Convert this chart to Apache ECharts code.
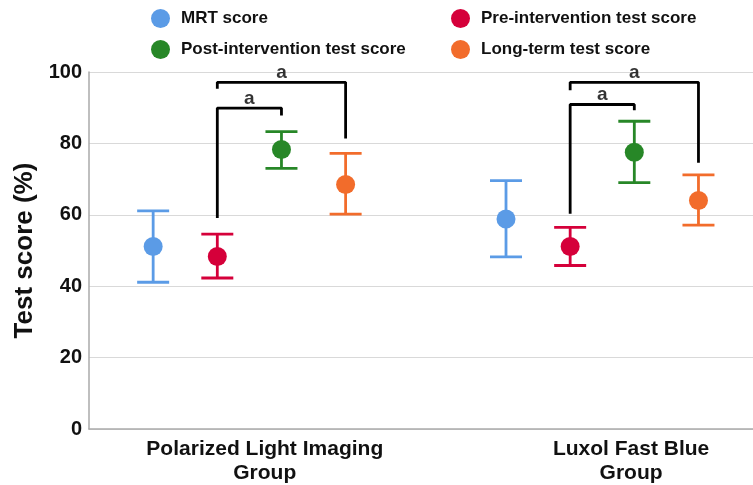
<!DOCTYPE html>
<html><head><meta charset="utf-8">
<script src="https://cdn.jsdelivr.net/npm/echarts@6/dist/echarts.min.js"></script>
<style>html,body{margin:0;padding:0;background:#fff}#c{width:753px;height:485px}</style>
</head><body><div id="c"></div>
<script>
// ---- data ----
const groupLabels = ['Polarized Light Imaging\nGroup', 'Luxol Fast Blue\nGroup'];
const seriesNames = ['MRT score', 'Pre-intervention test score', 'Post-intervention test score', 'Long-term test score'];
const mrtMean  = [51.1, 58.8];
const mrtLow   = [41.1, 48.2];
const mrtHigh  = [61.1, 69.6];
const preMean  = [48.3, 51.1];
const preLow   = [42.3, 45.8];
const preHigh  = [54.6, 56.5];
const postMean = [78.3, 77.5];
const postLow  = [73.0, 69.0];
const postHigh = [83.3, 86.2];
const longMean = [68.5, 64.0];
const longLow  = [60.2, 57.1];
const longHigh = [77.2, 71.2];
const yTicks = [0, 20, 40, 60, 80, 100];
// significance brackets: [group, fromSeries, toSeries, topValue, fromLegEnd, toLegEnd, label]
const brackets = [
  [0, 1, 3, 97.1, 95.3, 81.4, 'a'],
  [0, 1, 2, 89.9, 59.1, 87.8, 'a'],
  [1, 1, 3, 97.1, 94.9, 74.6, 'a'],
  [1, 1, 2, 90.9, 60.3, 89.3, 'a']
];

// ---- layout helpers ----
const colors = ['#5b9be6', '#d5003a', '#278727', '#f26c2b'];
const groupStart = [1, 6.5];
const labelPos = [2.74, 8.45];
const FONT = '"Liberation Sans", Arial, Helvetica, sans-serif';
const means = [mrtMean, preMean, postMean, longMean];
const lows = [mrtLow, preLow, postLow, longLow];
const highs = [mrtHigh, preHigh, postHigh, longHigh];
const xOf = (g, s) => groupStart[g] + s;

const series = [];
seriesNames.forEach((name, s) => {
  series.push({
    name, type: 'custom', z: 2,
    itemStyle: { color: colors[s] },
    encode: { x: 0, y: [1, 2] },
    data: groupLabels.map((_, g) => [xOf(g, s), lows[s][g], highs[s][g]]),
    renderItem(params, api) {
      const x = api.value(0);
      const lo = api.coord([x, api.value(1)]);
      const hi = api.coord([x, api.value(2)]);
      const hw = 16;
      const st = { stroke: colors[s], lineWidth: 2.8 };
      return { type: 'group', children: [
        { type: 'line', shape: { x1: lo[0], y1: lo[1], x2: hi[0], y2: hi[1] }, style: st },
        { type: 'line', shape: { x1: lo[0] - hw, y1: lo[1], x2: lo[0] + hw, y2: lo[1] }, style: st },
        { type: 'line', shape: { x1: hi[0] - hw, y1: hi[1], x2: hi[0] + hw, y2: hi[1] }, style: st }
      ]};
    }
  });
});
seriesNames.forEach((name, s) => {
  series.push({
    name, type: 'scatter', z: 3, symbol: 'circle', symbolSize: 19,
    itemStyle: { color: colors[s], opacity: 1 },
    data: groupLabels.map((_, g) => [xOf(g, s), means[s][g]])
  });
});
brackets.forEach(b => {
  const [g, a, c, top, la, lc, txt] = b;
  const x1 = xOf(g, a), x2 = xOf(g, c);
  series.push({
    type: 'line', z: 1, symbol: 'none', silent: true,
    lineStyle: { color: '#000', width: 2.8 },
    data: [[x1, la], [x1, top], [x2, top], [x2, lc]]
  });
  series.push({
    type: 'scatter', z: 4, symbolSize: 0, silent: true, clip: false,
    data: [[(x1 + x2) / 2, top]],
    label: { show: true, position: 'top', distance: 0, formatter: txt,
      color: '#000', fontSize: 19, fontWeight: 'bold', fontFamily: FONT }
  });
});

const legendBase = {
  icon: 'circle', itemWidth: 19, itemHeight: 19, padding: 0, itemGap: 0,
  textStyle: { fontSize: 17, fontWeight: 'bold', color: '#111', fontFamily: FONT, padding: [0, 0, 0, 6] }
};
const legendPos = [[151, 9], [451, 9], [151, 40], [451, 40]];

const chart = echarts.init(document.getElementById('c'), null, { renderer: 'canvas' });
chart.setOption({
  animation: false,
  backgroundColor: '#fff',
  textStyle: { fontFamily: FONT },
  legend: seriesNames.map((n, i) => Object.assign({}, legendBase, {
    data: [{ name: n, icon: 'circle' }], left: legendPos[i][0], top: legendPos[i][1]
  })),
  grid: { left: 89, right: 0, top: 72, bottom: 56, containLabel: false },
  xAxis: {
    type: 'value', min: 0, max: 10.35,
    splitLine: { show: false },
    axisLine: { show: true, lineStyle: { color: '#aaaaaa', width: 1.5 } },
    axisTick: { show: false },
    axisLabel: {
      customValues: labelPos,
      formatter: v => {
        let best = 0;
        labelPos.forEach((p, i) => { if (Math.abs(p - v) < Math.abs(labelPos[best] - v)) best = i; });
        return groupLabels[best];
      },
      color: '#111', fontSize: 21, fontWeight: 'bold', lineHeight: 24, margin: 8, fontFamily: FONT
    }
  },
  yAxis: {
    type: 'value', min: yTicks[0], max: yTicks[yTicks.length - 1], interval: 20,
    name: 'Test score (%)', nameLocation: 'middle', nameGap: 50,
    nameTextStyle: { fontSize: 26, fontWeight: 'bold', color: '#111', fontFamily: FONT },
    axisLine: { show: true, lineStyle: { color: '#aaaaaa', width: 1.5 } },
    axisTick: { show: false },
    splitLine: { show: true, lineStyle: { color: '#d9d9d9', width: 1.2 } },
    axisLabel: { color: '#111', fontSize: 20, fontWeight: 'bold', margin: 7, fontFamily: FONT }
  },
  series
});
</script></body></html>
